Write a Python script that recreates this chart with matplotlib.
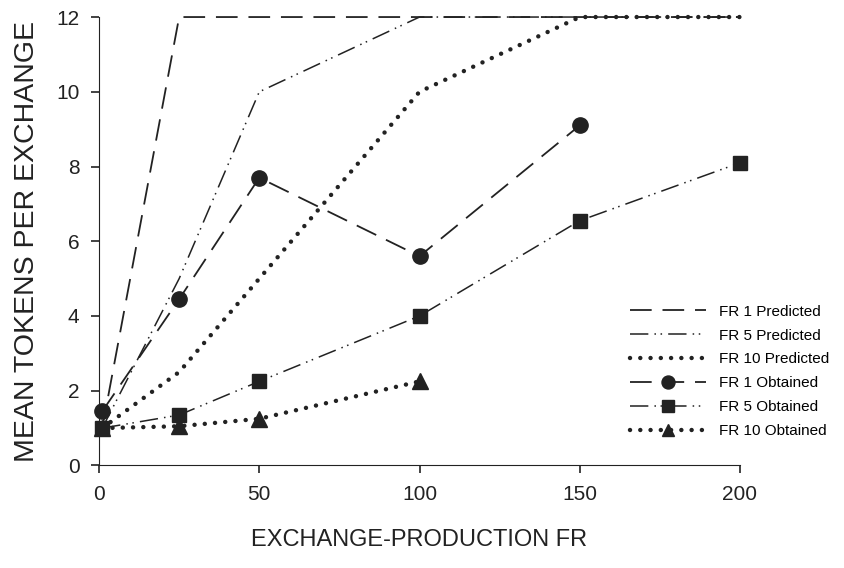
import matplotlib
matplotlib.use("Agg")
import matplotlib.pyplot as plt

plt.rcParams['font.family'] = ['Liberation Sans', 'DejaVu Sans']

# exchange-production FR values
fr = [1, 25, 50, 100, 150, 200]

# predicted tokens per exchange
fr1_pred = [1, 12, 12, 12, 12, 12]
fr5_pred = [1, 5, 10, 12, 12, 12]
fr10_pred = [1, 2.5, 5, 10, 12, 12]

# obtained tokens per exchange
fr1_obt_x = [1, 25, 50, 100, 150]
fr1_obt = [1.45, 4.45, 7.7, 5.6, 9.1]
fr5_obt_x = [1, 25, 50, 100, 150, 200]
fr5_obt = [1.0, 1.35, 2.25, 4.0, 6.55, 8.1]
fr10_obt_x = [1, 25, 50, 100]
fr10_obt = [1.0, 1.05, 1.25, 2.25]

fig = plt.figure(figsize=(8.45, 5.68), dpi=100)
ax = fig.add_axes([0.1172, 0.1805, 0.7585, 0.7895])

dash1 = (0, (12, 6))
dash5 = (0, (12, 4, 1, 3, 1, 4))
dot10 = (0, (0.01, 2.3))

ax.plot(fr, fr1_pred, color='#222222', lw=1.3, linestyle=dash1, label='FR 1 Predicted', clip_on=False)
ax.plot(fr, fr5_pred, color='#222222', lw=1.1, linestyle=dash5, label='FR 5 Predicted', clip_on=False)
ax.plot(fr, fr10_pred, color='#222222', lw=3.2, linestyle=dot10, dash_capstyle='round',
        label='FR 10 Predicted', clip_on=False)

ax.plot(fr1_obt_x, fr1_obt, color='#222222', lw=1.3, linestyle=dash1, marker='o', ms=11,
        label='FR 1 Obtained', clip_on=False)
ax.plot(fr5_obt_x, fr5_obt, color='#222222', lw=1.1, linestyle=dash5, marker='s', ms=10,
        label='FR 5 Obtained', clip_on=False)
ax.plot(fr10_obt_x, fr10_obt, color='#222222', lw=3.2, linestyle=dot10, dash_capstyle='round',
        marker='^', ms=11, label='FR 10 Obtained', clip_on=False)

ax.set_xlim(0, 200)
ax.set_ylim(0, 12)
ax.set_xticks([0, 50, 100, 150, 200])
ax.set_yticks([0, 2, 4, 6, 8, 10, 12])
ax.spines['top'].set_visible(False)
ax.spines['right'].set_visible(False)
ax.spines['left'].set_color('#222222')
ax.spines['bottom'].set_color('#222222')
ax.tick_params(direction='out', length=6, width=1.2, labelsize=15, colors='#222222', pad=8)

ax.set_xlabel('EXCHANGE-PRODUCTION FR', fontsize=17, labelpad=18, color='#222222')
ax.set_ylabel('MEAN TOKENS PER EXCHANGE', fontsize=20.5, labelpad=12, color='#222222')

ax.legend(loc='lower right', bbox_to_anchor=(1.16, 0.03), frameon=False, fontsize=11,
          handlelength=5, numpoints=1, labelspacing=0.65, markerscale=0.85)

fig.savefig('out.png', dpi=100)
